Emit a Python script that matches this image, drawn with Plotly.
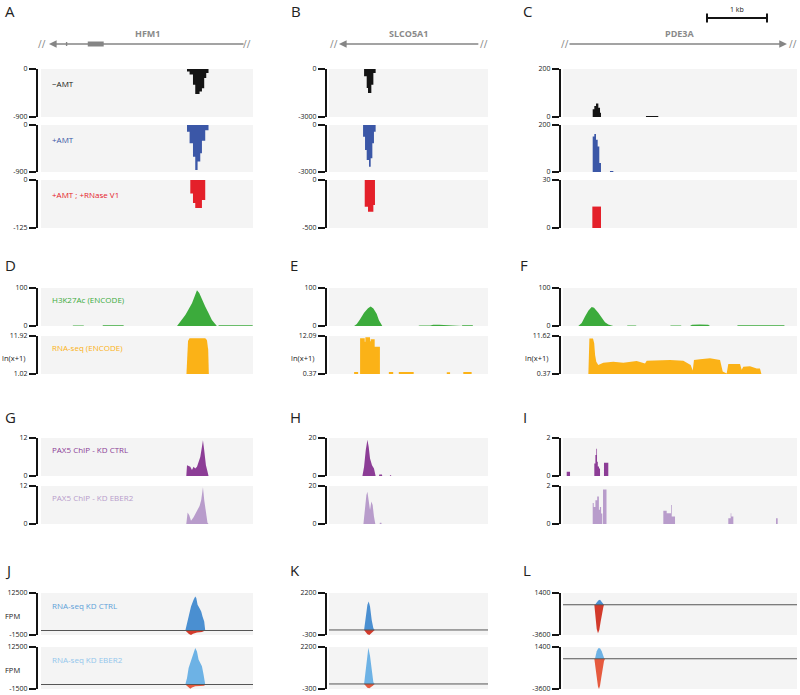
import plotly.graph_objects as go

# ---------------------------------------------------------------- data
# genomic window shown in each panel column (bp) and the gene models
window_bp = {"A": 3550, "B": 2670, "C": 3900}
gene_name = {"A": "HFM1", "B": "SLCO5A1", "C": "PDE3A"}
gene_start = {"A": 133, "B": 167, "C": 83}
gene_end = {"A": 3417, "B": 2533, "C": 3733}
gene_strand = {"A": "-", "B": "-", "C": "+"}
hfm1_exon_start = [417, 783]
hfm1_exon_end = [440, 1050]
break_left = {"A": 17, "B": 83, "C": 33}
break_right = {"A": 3450, "B": 2600, "C": 3833}
scalebar_bp = [2400, 3400]

# y ranges per track row (columns A/B/C)
range_noamt = [[-900, 0], [-3000, 0], [0, 200]]
range_amt = [[-900, 0], [-3000, 0], [0, 200]]
range_v1 = [[-125, 0], [-500, 0], [0, 30]]
range_h3 = [[0, 100], [0, 100], [0, 100]]
range_rna = [[1.02, 11.92], [0.37, 12.09], [0.37, 11.62]]
range_pax = [[0, 12], [0, 20], [0, 2]]
range_kd = [[-1500, 12500], [-300, 2200], [-3600, 1400]]

# -AMT
noamt_A_x = [2445, 2488, 2545, 2583, 2655, 2695, 2733, 2767, 2805]
noamt_A_y = [-45, -105, -295, -470, -420, -360, -170, -75, 0]
noamt_B_x = [589, 633, 655, 711, 745, 783]
noamt_B_y = [-460, -1190, -1500, -980, -250, 0]
noamt_C_x = [495, 522, 550, 589, 617, 633, 1383, 1588]
noamt_C_y = [32, 46, 56, 39, 18, 0, 4, 0]
# +AMT
amt_A_x = [2445, 2488, 2545, 2583, 2622, 2667, 2695, 2750, 2805]
amt_A_y = [-128, -350, -610, -860, -700, -540, -300, -100, 0]
amt_B_x = [572, 605, 633, 672, 700, 728, 755, 783]
amt_B_y = [-745, -1600, -2230, -2660, -2130, -1170, -425, 0]
amt_C_x = [495, 522, 550, 578, 605, 633, 783, 839]
amt_C_y = [151, 162, 137, 108, 38, 0, 4, 0]
# +AMT ; +RNase V1
v1_A_x = [2500, 2545, 2583, 2695, 2750]
v1_A_y = [-35, -60, -73, -52, 0]
v1_B_x = [600, 655, 745, 772]
v1_B_y = [-278, -330, -260, 0]
v1_C_x = [489, 633]
v1_C_y = [13.4, 0]

# H3K27Ac (ENCODE)
h3_A_x = [528, 540, 710, 722, 1028, 1040, 1380, 1388, 2278, 2333, 2417, 2472, 2528,
          2583, 2612, 2650, 2695, 2750, 2805, 2862, 2917, 2945, 2967, 2980, 3540, 3550]
h3_A_y = [0, 1.5, 1.5, 0, 0, 2, 2, 0, 0, 11.5, 29, 44, 60,
          82, 94, 87, 69, 51, 34, 16, 5, 0, 0, 2, 2, 0]
h3_B_x = [422, 467, 522, 589, 655, 700, 745, 800, 839, 878, 895,
          1500, 1520, 1700, 1750, 1850, 1983, 2150, 2228, 2240, 2410, 2422]
h3_B_y = [0, 5, 18, 35, 47, 51, 46, 32, 15, 4, 0,
          0, 1.5, 1.5, 3, 3, 2, 2, 0, 2, 2, 0]
h3_C_x = [255, 312, 367, 422, 478, 517, 588, 645, 700, 755, 838,
          1062, 1080, 1210, 1228, 1783, 1800, 1960, 1978,
          2117, 2150, 2280, 2420, 2450, 2895, 2920, 3680, 3700]
h3_C_y = [0, 8, 25, 40, 50, 48, 35, 22, 10, 4, 0,
          0, 1.5, 1.5, 0, 0, 1.5, 1.5, 0,
          0, 3, 4, 3, 0, 0, 2, 2, 0]

# RNA-seq (ENCODE), ln(x+1)
rna_A_x = [2433, 2445, 2462, 2488, 2600, 2750, 2778, 2800, 2812]
rna_A_y = [0, 6, 10.5, 11.25, 11.3, 11.25, 10.8, 8, 0]
rna_B_x = [422, 489, 522, 600, 611, 689, 700, 767, 855, 1005, 1078,
           1172, 1422, 1978, 2033, 2255, 2395]
rna_B_y = [1.0, 0, 11.4, 10.3, 11.7, 10.5, 11.1, 8.8, 0, 1.0, 0,
           1.0, 0, 0.9, 0, 1.0, 0]
rna_C_x = [422, 430, 440, 500, 520, 535, 555, 588, 672, 838, 1005, 1228, 1367, 1395,
           1783, 2005, 2128, 2162, 2183, 2283, 2450, 2617, 2662, 2728, 2755, 2950,
           2978, 3005, 3117, 3228, 3283, 3312]
rna_C_y = [0, 9, 10.9, 10.9, 9.5, 6, 4.0, 3.0, 3.7, 4.0, 3.7, 4.2, 3.5, 4.3,
           4.5, 4.3, 3.0, 1.4, 4.5, 4.7, 5.0, 4.5, 1.1, 0.5, 3.3, 3.3,
           1.6, 2.5, 2.7, 2.0, 2.0, 0]

# PAX5 ChIP - KD CTRL
paxc_A_x = [2433, 2445, 2500, 2528, 2555, 2583, 2612, 2638, 2667, 2695, 2712, 2733, 2762, 2788, 2805]
paxc_A_y = [0, 3.4, 2.9, 1.9, 2.9, 2.4, 2.9, 4.5, 6.0, 9.2, 11.3, 8.1, 3.4, 1.4, 0]
paxc_B_x = [561, 589, 617, 645, 667, 689, 722, 755, 783, 839, 845, 889, 894, 1022, 1025, 1042, 1045]
paxc_B_y = [0, 4.9, 13.6, 19.1, 15.3, 9.2, 5.7, 4.0, 0, 0, 0.8, 0.8, 0, 0, 0.4, 0.4, 0]
paxc_C_x = [62, 117, 522, 540, 556, 567, 580, 600, 617, 683, 755]
paxc_C_y = [0.22, 0, 0.66, 1.1, 1.44, 0.75, 0.5, 0.4, 0, 0.7, 0]
# PAX5 ChIP - KD EBER2
paxe_A_x = [2433, 2455, 2483, 2512, 2555, 2612, 2655, 2683, 2712, 2733, 2762, 2788, 2805]
paxe_A_y = [0, 3.6, 2.8, 1.0, 2.1, 3.9, 5.7, 7.6, 11.6, 7.6, 2.8, 0.4, 0]
paxe_B_x = [578, 600, 628, 645, 667, 689, 711, 733, 755, 778, 850, 855, 880, 883]
paxe_B_y = [0, 7.4, 15.3, 17.0, 12.6, 7.4, 11.8, 10.0, 3.9, 0, 0, 0.6, 0.6, 0]
paxe_C_x = [495, 512, 540, 570, 598, 615, 635, 655, 667, 725, 1672, 1728, 1800, 1812,
            1867, 2755, 2795, 2805, 2839, 3550, 3578]
paxe_C_y = [1.1, 0.9, 1.25, 1.45, 0.75, 0.9, 0.55, 0, 1.82, 0, 0.7, 0.56, 1.0, 0.4,
            0, 0.3, 0.56, 0.4, 0, 0.3, 0]

# RNA-seq KD CTRL (plus / minus strand, FPM)
kdc_plus_A_x = [2417, 2445, 2472, 2512, 2555, 2583, 2600, 2622, 2655, 2683, 2705, 2733, 2750]
kdc_plus_A_y = [0, 2400, 5200, 8000, 10250, 11350, 10800, 8560, 7440, 6320, 4650, 2970, 0]
kdc_minus_A_x = [2417, 2445, 2478, 2512, 2545, 2612, 2695, 2750]
kdc_minus_A_y = [0, -600, -1200, -1500, -1100, -700, -500, 0]
kdc_plus_B_x = [589, 617, 645, 667, 689, 717, 745, 767]
kdc_plus_B_y = [0, 800, 1500, 1700, 1400, 600, 100, 0]
kdc_minus_B_x = [589, 617, 645, 678, 711, 745, 767]
kdc_minus_B_y = [0, -150, -250, -300, -200, -100, 0]
kdc_plus_C_x = [533, 562, 588, 617, 645, 672, 683]
kdc_plus_C_y = [0, 280, 520, 600, 400, 100, 0]
kdc_minus_C_x = [522, 545, 562, 583, 605, 628, 650, 672, 683]
kdc_minus_C_y = [0, -1800, -2900, -3400, -3000, -2000, -900, -300, 0]
# RNA-seq KD EBER2
kde_plus_A_x = [2417, 2445, 2472, 2512, 2555, 2583, 2612, 2638, 2667, 2695, 2722, 2750]
kde_plus_A_y = [0, 2200, 5500, 8300, 10500, 12200, 11000, 8300, 7200, 6100, 3300, 0]
kde_minus_A_x = [2417, 2455, 2500, 2528, 2583, 2667, 2733, 2750]
kde_minus_A_y = [0, -800, -1400, -1000, -600, -500, -400, 0]
kde_plus_B_x = [589, 617, 645, 661, 689, 717, 745, 767]
kde_plus_B_y = [0, 860, 1860, 2160, 1660, 660, 100, 0]
kde_minus_B_x = [589, 617, 645, 678, 711, 745, 767]
kde_minus_B_y = [0, -120, -220, -250, -180, -80, 0]
kde_plus_C_x = [533, 562, 588, 617, 645, 672, 689]
kde_plus_C_y = [0, 880, 1240, 1240, 880, 280, 0]
kde_minus_C_x = [522, 545, 562, 583, 600, 617, 639, 661, 683, 700]
kde_minus_C_y = [0, -1500, -2500, -3300, -3600, -3200, -2200, -1100, -300, 0]

# ---------------------------------------------------------------- style
W, H = 800, 695
FONT = "Open Sans, Noto Sans, DejaVu Sans, sans-serif"
BG = "#f4f4f4"
GREY = "#858585"
BLACK = "#141414"
AMT_BLUE = "#3b57a7"
V1_RED = "#e4202a"
GREEN = "#3cab3c"
ORANGE = "#fbb217"
PURPLE = "#8c3d96"
LAVENDER = "#b89ccb"
KD_BLUE = "#4a8fd1"
KD_BLUE_L = "#6db2e5"
KD_RED = "#d23a2b"
KD_RED_L = "#e65a3e"

COLS = ["A", "B", "C"]
# background left / right and bracket x, in pixels
COL_PX = {"A": (41, 253, 37), "B": (329, 488, 326), "C": (563, 797, 560)}
ROW_PX = [(69, 117), (125, 172), (180, 228), (288, 326), (336, 374),
          (438, 476), (486, 524), (593, 635), (647, 689)]

rows = [
    dict(label="\u2212AMT", lc=BLACK, rng=range_noamt, sig=[
        [(noamt_A_x, noamt_A_y, BLACK, "hv")],
        [(noamt_B_x, noamt_B_y, BLACK, "hv")],
        [(noamt_C_x, noamt_C_y, BLACK, "hv")]]),
    dict(label="+AMT", lc=AMT_BLUE, rng=range_amt, sig=[
        [(amt_A_x, amt_A_y, AMT_BLUE, "hv")],
        [(amt_B_x, amt_B_y, AMT_BLUE, "hv")],
        [(amt_C_x, amt_C_y, AMT_BLUE, "hv")]]),
    dict(label="+AMT ; +RNase V1", lc=V1_RED, rng=range_v1, sig=[
        [(v1_A_x, v1_A_y, V1_RED, "hv")],
        [(v1_B_x, v1_B_y, V1_RED, "hv")],
        [(v1_C_x, v1_C_y, V1_RED, "hv")]]),
    dict(label="H3K27Ac (ENCODE)", lc=GREEN, rng=range_h3, sig=[
        [(h3_A_x, h3_A_y, GREEN, "linear")],
        [(h3_B_x, h3_B_y, GREEN, "linear")],
        [(h3_C_x, h3_C_y, GREEN, "linear")]]),
    dict(label="RNA-seq (ENCODE)", lc=ORANGE, rng=range_rna, side="ln(x+1)", side_all=True, sig=[
        [(rna_A_x, rna_A_y, ORANGE, "linear")],
        [(rna_B_x, rna_B_y, ORANGE, "hv")],
        [(rna_C_x, rna_C_y, ORANGE, "linear")]]),
    dict(label="PAX5 ChIP - KD CTRL", lc=PURPLE, rng=range_pax, sig=[
        [(paxc_A_x, paxc_A_y, PURPLE, "linear")],
        [(paxc_B_x, paxc_B_y, PURPLE, "linear")],
        [(paxc_C_x, paxc_C_y, PURPLE, "hv")]]),
    dict(label="PAX5 ChIP - KD EBER2", lc=LAVENDER, rng=range_pax, sig=[
        [(paxe_A_x, paxe_A_y, LAVENDER, "linear")],
        [(paxe_B_x, paxe_B_y, LAVENDER, "linear")],
        [(paxe_C_x, paxe_C_y, LAVENDER, "hv")]]),
    dict(label="RNA-seq KD CTRL", lc="#5e9fd8", rng=range_kd, side="FPM", zero=True, sig=[
        [(kdc_minus_A_x, kdc_minus_A_y, KD_RED, "linear"), (kdc_plus_A_x, kdc_plus_A_y, KD_BLUE, "linear")],
        [(kdc_minus_B_x, kdc_minus_B_y, KD_RED, "linear"), (kdc_plus_B_x, kdc_plus_B_y, KD_BLUE, "linear")],
        [(kdc_minus_C_x, kdc_minus_C_y, KD_RED, "linear"), (kdc_plus_C_x, kdc_plus_C_y, KD_BLUE, "linear")]]),
    dict(label="RNA-seq KD EBER2", lc="#93c6ec", rng=range_kd, side="FPM", zero=True, sig=[
        [(kde_minus_A_x, kde_minus_A_y, KD_RED_L, "linear"), (kde_plus_A_x, kde_plus_A_y, KD_BLUE_L, "linear")],
        [(kde_minus_B_x, kde_minus_B_y, KD_RED_L, "linear"), (kde_plus_B_x, kde_plus_B_y, KD_BLUE_L, "linear")],
        [(kde_minus_C_x, kde_minus_C_y, KD_RED_L, "linear"), (kde_plus_C_x, kde_plus_C_y, KD_BLUE_L, "linear")]]),
]

panel_letters = [("A", 3, 11), ("B", 289, 11), ("C", 521, 11),
                 ("D", 3, 265), ("E", 288, 265), ("F", 518, 265),
                 ("G", 3, 417), ("H", 288, 417), ("I", 521, 417),
                 ("J", 3, 570), ("K", 288, 570), ("L", 521, 570)]


def fx(p):
    return p / W


def fy(p):
    return 1 - p / H


def sfx(k):
    return "" if k == 1 else str(k)


fig = go.Figure()
axes, shapes, annotations = {}, [], []

# ---------------------------------------------------------------- gene headers
k = 0
for col in COLS:
    k += 1
    left, right, br = COL_PX[col]
    xr, yr = "x" + sfx(k), "y" + sfx(k)
    axes["xaxis" + sfx(k)] = dict(domain=[fx(left), fx(right)], range=[0, window_bp[col]],
                                  visible=False, anchor=yr, fixedrange=True, automargin=False)
    axes["yaxis" + sfx(k)] = dict(domain=[fy(56), fy(3)], range=[-12, 41],
                                  visible=False, anchor=xr, fixedrange=True, automargin=False)
    if gene_strand[col] == "-":
        head, tail = gene_start[col], gene_end[col]
    else:
        head, tail = gene_end[col], gene_start[col]
    annotations.append(dict(x=head, y=0, ax=tail, ay=0, xref=xr, yref=yr, axref=xr, ayref=yr,
                            text="", showarrow=True, arrowhead=2, arrowsize=1.1,
                            arrowwidth=1.4, arrowcolor=GREY, standoff=0, startstandoff=0))
    for bx in (break_left[col], break_right[col]):
        annotations.append(dict(x=bx, y=0, xref=xr, yref=yr, text="//", showarrow=False,
                                yanchor="middle", font=dict(family=FONT, size=10, color=GREY)))
    annotations.append(dict(x=window_bp[col] / 2, y=11, xref=xr, yref=yr, yanchor="middle",
                            text="<b>%s</b>" % gene_name[col], showarrow=False,
                            font=dict(family=FONT, size=9, color="#8a8a8a")))
    if col == "A":
        for i, (s, e) in enumerate(zip(hfm1_exon_start, hfm1_exon_end)):
            h = 2 if i == 0 else 2.5
            shapes.append(dict(type="rect", xref=xr, yref=yr, x0=s, x1=e, y0=-h, y1=h,
                               fillcolor=GREY, line_width=0))
    if col == "C":
        s, e = scalebar_bp
        shapes.append(dict(type="line", xref=xr, yref=yr, x0=s, x1=e, y0=26, y1=26,
                           line=dict(color=BLACK, width=2)))
        for bx in (s, e):
            shapes.append(dict(type="line", xref=xr, yref=yr, x0=bx, x1=bx, y0=21.5, y1=30.5,
                               line=dict(color=BLACK, width=2)))
        annotations.append(dict(x=(s + e) / 2, y=35, xref=xr, yref=yr, text="1 kb",
                                yanchor="middle", showarrow=False,
                                font=dict(family=FONT, size=7, color=BLACK)))

# ---------------------------------------------------------------- tracks
for r, row in enumerate(rows):
    top, bot = ROW_PX[r]
    for c, col in enumerate(COLS):
        k += 1
        left, right, br = COL_PX[col]
        xr, yr = "x" + sfx(k), "y" + sfx(k)
        lo, hi = row["rng"][c]
        axes["xaxis" + sfx(k)] = dict(domain=[fx(left), fx(right)], range=[0, window_bp[col]],
                                      visible=False, anchor=yr, fixedrange=True, automargin=False)
        axes["yaxis" + sfx(k)] = dict(
            domain=[fy(bot), fy(top)], range=[lo, hi], anchor="free", position=fx(br),
            showline=True, linewidth=2, linecolor=BLACK, ticks="outside", ticklen=7,
            tickwidth=2, tickcolor=BLACK, tickvals=[lo, hi], ticktext=["%g" % lo, "%g" % hi],
            tickfont=dict(family=FONT, size=7, color="#222"), showgrid=False,
            zeroline=False, fixedrange=True, automargin=False)
        shapes.append(dict(type="rect", xref=xr + " domain", yref=yr + " domain",
                           x0=0, x1=1, y0=0, y1=1, fillcolor=BG, line_width=0, layer="below"))
        for xs, ys, color, shp in row["sig"][c]:
            fig.add_trace(go.Scatter(x=xs, y=ys, xaxis=xr, yaxis=yr, mode="lines",
                                     line=dict(color=color, width=0, shape=shp),
                                     fill="tozeroy", fillcolor=color,
                                     hoverinfo="skip", showlegend=False))
        if row.get("zero"):
            shapes.append(dict(type="line", xref=xr + " domain", yref=yr, x0=0, x1=1,
                               y0=0, y1=0, line=dict(color="#555", width=1)))
        if row.get("side") == "FPM" and c == 0:
            annotations.append(dict(x=fx(3), y=fy((top + bot) / 2 + 2), xref="paper",
                                    yref="paper", xanchor="left", yanchor="middle",
                                    text=row["side"], showarrow=False,
                                    font=dict(family=FONT, size=7.5, color="#222")))
        elif row.get("side") and row.get("side_all"):
            annotations.append(dict(x=fx(br - 10), y=fy((top + bot) / 2 + 3), xref="paper",
                                    yref="paper", xanchor="right", yanchor="middle",
                                    text=row["side"], showarrow=False,
                                    font=dict(family=FONT, size=7.5, color="#222")))
    annotations.append(dict(x=fx(50), y=fy(top + 0.3 * (bot - top)), xref="paper", yref="paper",
                            xanchor="left", yanchor="middle", text=row["label"], showarrow=False,
                            font=dict(family=FONT, size=8, color=row["lc"])))

for letter, lx, ly in panel_letters:
    annotations.append(dict(x=fx(lx), y=fy(ly), xref="paper", yref="paper", xanchor="left",
                            yanchor="middle", text=letter, showarrow=False,
                            font=dict(family=FONT, size=15, color="#222")))

fig.update_layout(**axes)
fig.update_layout(template="none", width=W, height=H,
                  margin=dict(l=0, r=0, t=0, b=0, pad=0, autoexpand=False),
                  paper_bgcolor="white", plot_bgcolor="white", showlegend=False,
                  shapes=shapes, annotations=annotations)
# the page body has a default 8px margin; drop it so the figure sits at the window corner
fig.write_html("out.html", config={"displayModeBar": False},
               post_script="document.body.style.margin='0';")
